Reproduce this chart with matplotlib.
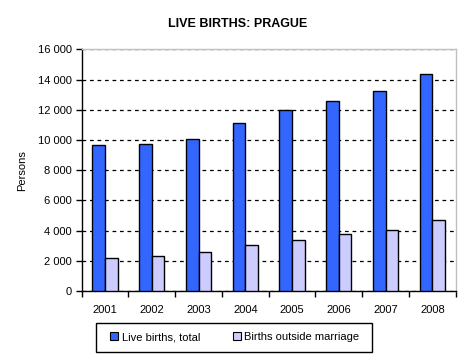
import matplotlib
matplotlib.use("Agg")
import matplotlib.pyplot as plt
import numpy as np
from matplotlib.ticker import FuncFormatter, MultipleLocator, FixedLocator
from matplotlib.patches import Rectangle

years = ["2001", "2002", "2003", "2004", "2005", "2006", "2007", "2008"]
live_total = [9650, 9710, 10040, 11100, 11960, 12560, 13220, 14350]
outside_marriage = [2170, 2300, 2560, 3030, 3360, 3750, 4020, 4680]

plt.rcParams['font.family'] = ['Liberation Sans', 'DejaVu Sans']

W, H = 476, 360
fig = plt.figure(figsize=(4.76, 3.6), dpi=100)
fig.patch.set_facecolor('white')
ax = fig.add_axes([81.7 / W, 1 - 291 / H, (455.7 - 81.7) / W, (291 - 49.3) / H])

x = np.arange(len(years))
w = 0.27
ax.bar(x - w/2, live_total, w, color='#3366FF', edgecolor='black', linewidth=1, label='Live births, total', zorder=3)
ax.bar(x + w/2, outside_marriage, w, color='#CCCCFF', edgecolor='black', linewidth=1, label='Births outside marriage', zorder=3)

ax.set_xlim(-0.5, len(years) - 0.5)
ax.set_ylim(0, 16000)
ax.yaxis.set_major_locator(MultipleLocator(2000))
ax.yaxis.set_major_formatter(FuncFormatter(lambda v, p: f"{int(v):,}".replace(",", " ")))
ax.yaxis.grid(True, linestyle=(0, (3, 3)), color='black', linewidth=0.9, zorder=1)

ax.set_xticks(x)
ax.set_xticklabels(years)
ax.tick_params(axis='x', which='major', length=0, labelsize=8, pad=10)
ax.xaxis.set_minor_locator(FixedLocator(np.arange(-0.5, len(years), 1)))
ax.tick_params(axis='x', which='minor', length=4, width=1, direction='out')
ax.tick_params(axis='y', length=4, width=1, direction='out', labelsize=8, pad=3)

for s in ['top', 'right']:
    ax.spines[s].set_color('#C0C0C0')
    ax.spines[s].set_linewidth(1)
for s in ['left', 'bottom']:
    ax.spines[s].set_color('black')
    ax.spines[s].set_linewidth(1)

ax.set_ylabel('Persons', fontsize=8, labelpad=8)
fig.text(0.5, 1 - 24 / H, 'LIVE BIRTHS: PRAGUE', ha='center', va='center', fontsize=9, fontweight='bold')

# legend frame
fig.patches.append(Rectangle((96 / W, 1 - 351.7 / H), (371.7 - 96) / W, (351.7 - 322.7) / H,
                             transform=fig.transFigure, facecolor='white', edgecolor='black',
                             linewidth=1, zorder=1))
leg = fig.legend(loc='center', bbox_to_anchor=(235 / W, 1 - 337 / H), ncol=2, fontsize=8,
                 frameon=False, handlelength=0.7, handleheight=0.7, handletextpad=0.3,
                 columnspacing=3.0, borderpad=0)
leg.set_zorder(5)
for h in leg.legend_handles:
    h.set_linewidth(0.8)

fig.savefig('out.png', dpi=100, facecolor='white')
